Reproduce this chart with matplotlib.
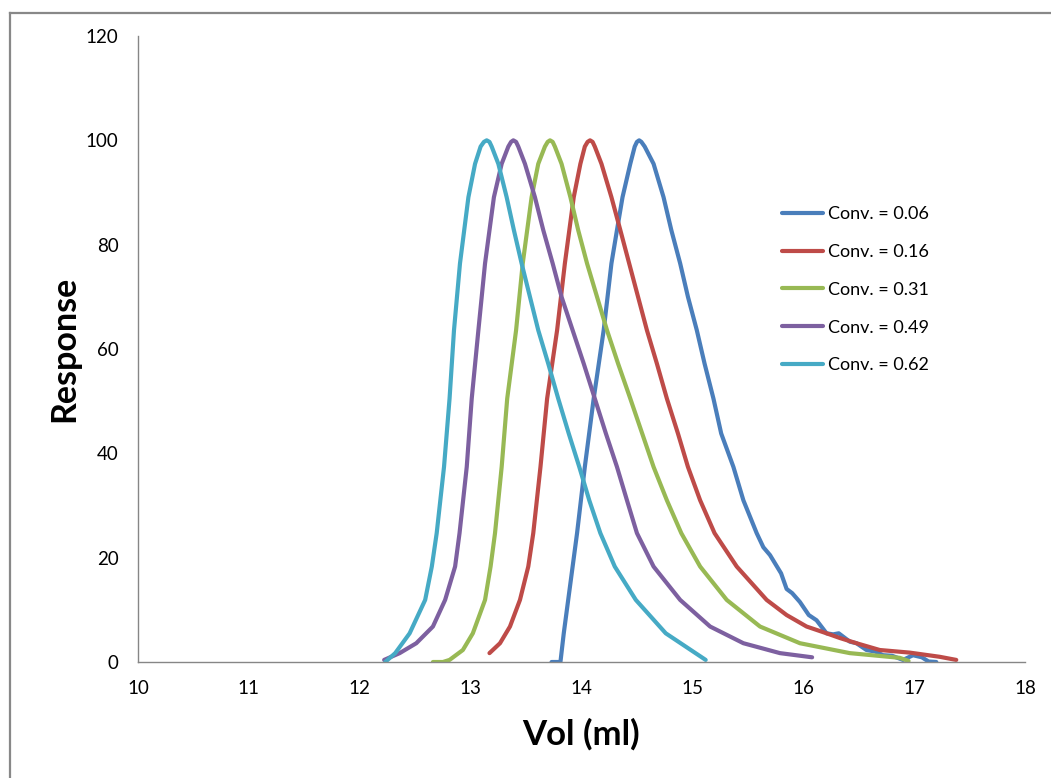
import matplotlib
matplotlib.use("Agg")
import matplotlib.pyplot as plt
from matplotlib.lines import Line2D

# ---- data ----
labels = ["Conv. = 0.06", "Conv. = 0.16", "Conv. = 0.31", "Conv. = 0.49", "Conv. = 0.62"]
colors = ["#4A7EBB", "#BE4B48", "#98B954", "#7D60A0", "#46AAC5"]

x_006 = [13.73, 13.81, 13.84, 13.88, 13.96, 14.03, 14.11, 14.20, 14.27, 14.32, 14.37, 14.44, 14.48, 14.50,
         14.52, 14.54, 14.57, 14.65, 14.74, 14.81, 14.89, 14.96, 15.04, 15.11, 15.19, 15.26, 15.37, 15.46,
         15.58, 15.64, 15.70, 15.80, 15.85, 15.90, 15.97, 16.05, 16.12, 16.21, 16.27, 16.32, 16.42, 16.48,
         16.57, 16.65, 16.72, 16.80, 16.90, 16.99, 17.07, 17.13, 17.20]
y_006 = [0, 0, 5.5, 11.9, 24.7, 37.4, 50.5, 63.6, 76.4, 82.8, 89.1, 95.5, 98.8, 99.7,
         100, 99.7, 98.8, 95.5, 89.1, 82.8, 76.4, 70, 63.6, 57.2, 50.5, 43.8, 37.4, 31.0,
         24.7, 22.0, 20.5, 17.0, 14.0, 13.2, 11.5, 9.0, 8.0, 5.5, 5.3, 5.5, 3.9, 3.6,
         2.3, 2.0, 1.3, 1.2, 0.4, 1.3, 0.9, 0.1, 0]

x_016 = [13.17, 13.265, 13.355, 13.445, 13.52, 13.565, 13.63, 13.69, 13.78, 13.85, 13.93, 13.99, 14.03, 14.055,
         14.077, 14.10, 14.12, 14.18, 14.27, 14.35, 14.43, 14.51, 14.59, 14.68, 14.77, 14.87, 14.96, 15.07,
         15.20, 15.40, 15.67, 15.85, 16.03, 16.21, 16.33, 16.48, 16.69, 16.96, 17.23, 17.38]
y_016 = [1.7, 3.6, 6.8, 11.9, 18.3, 24.7, 37.4, 50.5, 63.6, 76.4, 89.1, 95.5, 98.8, 99.7,
         100, 99.7, 98.8, 95.5, 89.1, 82.8, 76.4, 70, 63.6, 57.2, 50.5, 43.8, 37.4, 31.0,
         24.7, 18.3, 11.9, 9.0, 6.8, 5.5, 4.6, 3.6, 2.3, 1.8, 1.0, 0.4]

x_031 = [12.66, 12.75, 12.81, 12.93, 13.02, 13.13, 13.18, 13.22, 13.28, 13.33, 13.41, 13.47, 13.55, 13.61,
         13.67, 13.695, 13.716, 13.74, 13.76, 13.82, 13.90, 13.97, 14.05, 14.14, 14.23, 14.33, 14.44, 14.65,
         14.77, 14.90, 15.07, 15.31, 15.61, 15.97, 16.42, 16.87, 16.95]
y_031 = [0, 0, 0.4, 2.3, 5.5, 11.9, 18.3, 24.7, 37.4, 50.5, 63.6, 76.4, 89.1, 95.5,
         98.8, 99.7, 100, 99.7, 98.8, 95.5, 89.1, 82.8, 76.4, 70, 63.6, 57.2, 50.5, 37.4,
         31.0, 24.7, 18.3, 11.9, 6.8, 3.6, 1.7, 0.8, 0.2]

x_049 = [12.22, 12.36, 12.51, 12.66, 12.77, 12.86, 12.90, 12.965, 13.01, 13.07, 13.13, 13.21, 13.28, 13.34,
         13.365, 13.385, 13.41, 13.43, 13.49, 13.58, 13.655, 13.74, 13.82, 13.92, 14.02, 14.12, 14.22, 14.32,
         14.41, 14.50, 14.65, 14.89, 15.16, 15.46, 15.79, 16.08]
y_049 = [0.4, 1.7, 3.6, 6.8, 11.9, 18.3, 24.7, 37.4, 50.5, 63.6, 76.4, 89.1, 95.5, 98.8,
         99.7, 100, 99.7, 98.8, 95.5, 89.1, 82.8, 76.4, 70, 63.6, 57.2, 50.5, 43.8, 37.4,
         31.0, 24.7, 18.3, 11.9, 6.8, 3.6, 1.7, 0.9]

x_062 = [12.23, 12.32, 12.45, 12.59, 12.65, 12.694, 12.76, 12.81, 12.85, 12.904, 12.98, 13.04, 13.09, 13.12,
         13.145, 13.17, 13.19, 13.25, 13.325, 13.39, 13.46, 13.535, 13.61, 13.70, 13.79, 13.885, 13.98, 14.07,
         14.17, 14.30, 14.49, 14.76, 15.12]
y_062 = [0, 1.7, 5.5, 11.9, 18.3, 24.7, 37.4, 50.5, 63.6, 76.4, 89.1, 95.5, 98.8, 99.7,
         100, 99.7, 98.8, 95.5, 89.1, 82.8, 76.4, 70, 63.6, 57.2, 50.5, 43.8, 37.4, 31.0,
         24.7, 18.3, 11.9, 5.5, 0.4]

series_x = [x_006, x_016, x_031, x_049, x_062]
series_y = [y_006, y_016, y_031, y_049, y_062]

x_ticks = [10, 11, 12, 13, 14, 15, 16, 17, 18]
y_ticks = [0, 20, 40, 60, 80, 100, 120]

# ---- figure ----
plt.rcParams['font.family'] = ['Lato', 'DejaVu Sans']
W, H = 1051, 778
fig = plt.figure(figsize=(W / 100, H / 100), dpi=100)
ax = fig.add_axes([138 / W, 1 - 662 / H, (1025 - 138) / W, (662 - 36) / H])

for xs, ys, c, lab in zip(series_x, series_y, colors, labels):
    ax.plot(xs, ys, color=c, lw=3.0, label=lab, solid_capstyle='round', solid_joinstyle='round')

ax.set_xlim(10, 18)
ax.set_ylim(0, 120)
ax.set_xticks(x_ticks)
ax.set_yticks(y_ticks)
ax.tick_params(length=0, labelsize=13.5, colors='#000000')
ax.tick_params(axis='y', pad=14)
ax.tick_params(axis='x', pad=13)
for s in ['top', 'right']:
    ax.spines[s].set_visible(False)
for s in ['left', 'bottom']:
    ax.spines[s].set_color('#868686')
    ax.spines[s].set_linewidth(1.0)

ax.set_xlabel("Vol (ml)", fontsize=25, fontweight='bold', labelpad=15)
ax.set_ylabel("Response", fontsize=24.5, fontweight='bold', labelpad=4)

leg = ax.legend(loc='upper left', bbox_to_anchor=(782 / W, 1 - 206 / H), bbox_transform=fig.transFigure,
                frameon=False, fontsize=13, handlelength=2.27, handletextpad=0.28,
                labelspacing=1.21, borderpad=0, borderaxespad=0)

# outer chart border (cut at right and bottom)
fig.add_artist(Line2D([10 / W, 1.0], [1 - 12.5 / H, 1 - 12.5 / H], transform=fig.transFigure,
                      color='#888888', lw=1.6))
fig.add_artist(Line2D([10 / W, 10 / W], [0.0, 1 - 12.5 / H], transform=fig.transFigure,
                      color='#888888', lw=1.6))

fig.savefig("out.png", dpi=100)
